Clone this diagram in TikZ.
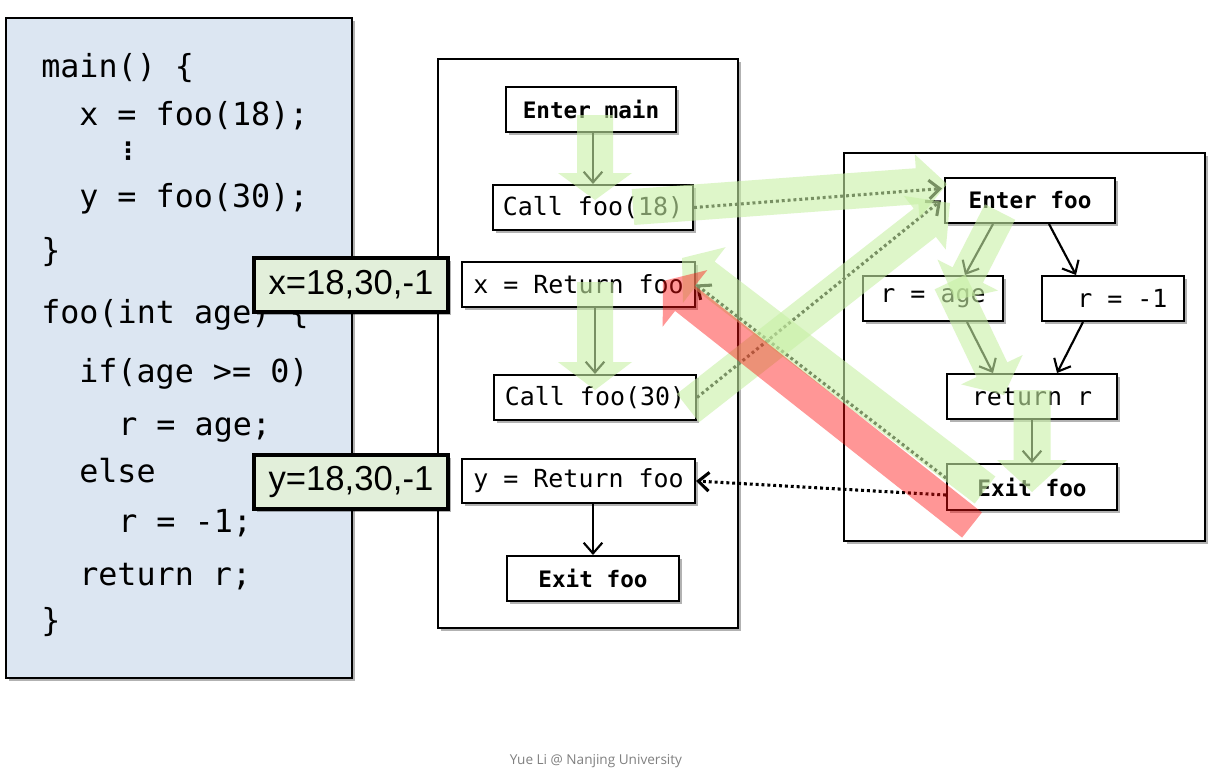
\documentclass[tikz,border=0pt]{standalone}
\usepackage{fontspec}
\setmainfont{Liberation Sans}
\newfontfamily\monofont{DejaVu Sans Mono}
\newfontfamily\symfont{DejaVu Sans}
\newfontfamily\footfont{Open Sans}
\usetikzlibrary{calc,shadows,arrows.meta}
\definecolor{codebg}{RGB}{220,230,242}
\definecolor{labelbg}{RGB}{226,239,218}
\definecolor{ovgreen}{RGB}{200,240,165}
\definecolor{ovred}{RGB}{255,12,12}
\definecolor{footgray}{RGB}{128,128,128}
% #1 style, #2 from, #3 to, #4 shaft half width, #5 head half width, #6 head length (px)
\newcommand\fatarrow[6]{%
  \fill[#1] let \p1=(#2), \p2=(#3),
      \n1={veclen(\x2-\x1,\y2-\y1)},
      \n2={(\x2-\x1)/\n1}, \n3={(\y2-\y1)/\n1},
      \n4={#4*0.75}, \n5={#5*0.75}, \n6={#6*0.75} in
    ({\x1-\n3*\n4},{\y1+\n2*\n4}) --
    ({\x2-\n2*\n6-\n3*\n4},{\y2-\n3*\n6+\n2*\n4}) --
    ({\x2-\n2*\n6-\n3*\n5},{\y2-\n3*\n6+\n2*\n5}) --
    (\p2) --
    ({\x2-\n2*\n6+\n3*\n5},{\y2-\n3*\n6-\n2*\n5}) --
    ({\x2-\n2*\n6+\n3*\n4},{\y2-\n3*\n6-\n2*\n4}) --
    ({\x1+\n3*\n4},{\y1-\n2*\n4}) -- cycle;}
\begin{document}
\begin{tikzpicture}[x=0.75pt,y=-0.75pt,
  shadowed/.style={drop shadow={shadow xshift=2.5pt,shadow yshift=-2.5pt,opacity=0.3,fill=black}},
  frame/.style={draw,line width=1.5pt,fill=white,inner sep=0pt,shadowed},
  cfg/.style={frame,minimum height=33.75pt,font=\monofont\fontsize{18.7}{22}\selectfont},
  cfgb/.style={frame,minimum height=33.75pt,font=\monofont\bfseries\fontsize{17}{20}\selectfont},
  code/.style={anchor=base west,inner sep=0pt,font=\monofont\fontsize{23.8}{28}\selectfont},
  lab/.style={draw,line width=2.3pt,fill=labelbg,inner sep=0pt,shadowed,minimum width=145.5pt,minimum height=40.5pt,font=\fontsize{26}{30}\selectfont},
  flow/.style={line width=1.6pt,-{Straight Barb[length=8pt,width=14pt]}},
  call/.style={flow,line width=2.3pt,dash pattern=on 2.2pt off 2.2pt},
  ovg/.style={fill=ovgreen,opacity=0.6},
  ovr/.style={fill=ovred,opacity=0.43}]
\useasboundingbox (0,0) rectangle (1212,775);
\fill[white] (0,0) rectangle (1212,775);

% code panel
\node (codebox) [draw,line width=1.5pt,fill=codebg,shadowed,minimum width=259.5pt,minimum height=495pt,inner sep=0pt] at (179,348) {};
\node (l1) [code] at (41,77) {main() \{};
\node (l2) [code] at (79,125) {x = foo(18);};
\node (ld) [inner sep=0pt,font=\symfont\bfseries\fontsize{18}{18}\selectfont] at (128,151) {⋮};
\node (l3) [code] at (79,207) {y = foo(30);};
\node (l4) [code] at (41,261) {\}};
\node (l5) [code] at (41,323) {foo(int age) \{};
\node (l6) [code] at (79,382) {if(age >= 0)};
\node (l7) [code] at (118,435) {r = age;};
\node (l8) [code] at (79,482) {else};
\node (l9) [code] at (118,532) {r = -1;};
\node (l10) [code] at (79,585) {return r;};
\node (l11) [code] at (41,631) {\}};

% containers
\node (mainbox) [frame,minimum width=225pt,minimum height=426.75pt] at (588,343.5) {};
\node (foobox) [frame,minimum width=270.75pt,minimum height=291pt] at (1024.5,347) {};

% main CFG
\node (em)  [cfgb,minimum width=127.5pt] at (591,109.5) {Enter main};
\node (c18) [cfg,minimum width=150pt] at (593,207.5) {Call foo(18)};
\node (xr)  [cfg,minimum width=174.75pt] at (578.5,284.5) {x = Return foo};
\node (c30) [cfg,minimum width=151.5pt] at (595,397.5) {Call foo(30)};
\node (yr)  [cfg,minimum width=174.75pt,minimum height=33pt] at (578.5,481) {y = Return foo};
\node (exm) [cfgb,minimum width=129pt] at (593,578.5) {Exit foo};

% foo CFG
\node (ef) [cfgb,minimum width=127.5pt] at (1030,200.5) {Enter foo};
\node (ra) [cfg,minimum width=105pt] at (933,298.5) {r = age};
\node (rm) [cfg,minimum width=106.5pt] at (1113,298.5) {\hspace*{14pt}r = -1};
\node (rr) [cfg,minimum width=127.5pt] at (1032,396.5) {return r};
\node (xf) [cfgb,minimum width=127.5pt,minimum height=34.5pt] at (1032,487) {Exit foo};

% flow edges
\draw[flow] (c18.north |- em.south) -- (c18.north);
\draw[flow] (c30.north |- xr.south) -- (c30.north);
\draw[flow] (exm.north |- yr.south) -- (exm.north);
\draw[flow] ($(ef.south)+(-37,0)$) -- ($(ra.north)+(32,0)$);
\draw[flow] ($(ef.south)+(19,0)$) -- ($(rm.north)+(-37,0)$);
\draw[flow] ($(ra.south)+(34,0)$) -- ($(rr.north)+(-39,0)$);
\draw[flow] ($(rm.south)+(-30,0)$) -- ($(rr.north)+(25,0)$);
\draw[flow] (rr.south) -- (xf.north);

% call / return edges
\draw[call] (c18.east) -- ($(ef.west)+(-2,-12)$);
\draw[call] (c30.east) -- ($(ef.west)+(-3,0)$);
\draw[call] ($(xf.west)+(0,8)$) -- (yr.east);
\draw[call] ($(xf.west)+(0,-9)$) -- (xr.east);

% overlay paths
\coordinate (g1s) at (595,115);  \coordinate (g1e) at (595,200);
\coordinate (g2s) at (633,207);  \coordinate (g2e) at (947,184);
\coordinate (g3s) at (688,408);  \coordinate (g3e) at (950,203);
\coordinate (g4s) at (985,490);  \coordinate (g4e) at (682,258);
\coordinate (g5s) at (1000,212); \coordinate (g5e) at (955,300);
\coordinate (g6s) at (950,282);  \coordinate (g6e) at (1004,395);
\coordinate (g7s) at (1032,390); \coordinate (g7e) at (1032,492);
\coordinate (g8s) at (595,282);  \coordinate (g8e) at (595,390);
\coordinate (rds) at (972,525);  \coordinate (rde) at (663,281);
\fatarrow{ovg}{g1s}{g1e}{18}{37}{27}
\fatarrow{ovg}{g2s}{g2e}{18}{32}{30}
\fatarrow{ovg}{g3s}{g3e}{18}{34}{32}
\fatarrow{ovg}{g4s}{g4e}{17}{35}{28}
\fatarrow{ovg}{g5s}{g5e}{17}{34}{28}
\fatarrow{ovg}{g6s}{g6e}{17}{34}{28}
\fatarrow{ovg}{g7s}{g7e}{18.5}{35}{32}
\fatarrow{ovg}{g8s}{g8e}{18}{37}{28}
\fatarrow{ovr}{rds}{rde}{16}{36}{28}

% value labels
\node (lx) [lab] at (351,285) {x=18,30,-1};
\node (ly) [lab] at (351,482) {y=18,30,-1};

% footer
\node (foot) [text=footgray,font=\footfont\fontsize{10.2}{12}\selectfont] at (596,761) {Yue Li @ Nanjing University};
\end{tikzpicture}
\end{document}
